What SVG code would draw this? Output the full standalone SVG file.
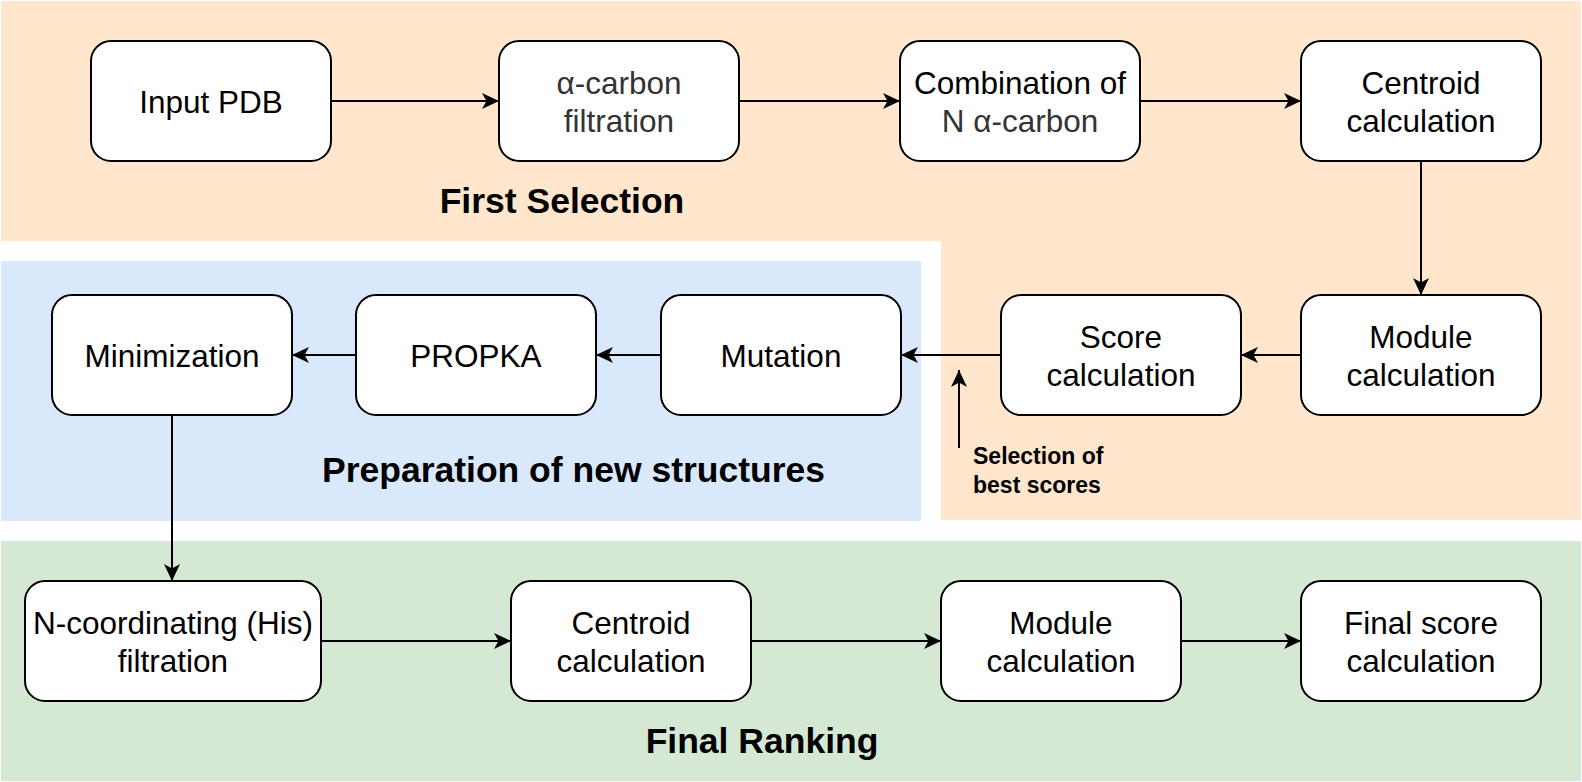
<svg xmlns="http://www.w3.org/2000/svg" width="1582" height="782" viewBox="0 0 1582 782">
<style>
.box{fill:#fff;stroke:#000;stroke-width:2}
.t{font-family:"Liberation Sans",Arial,sans-serif;font-size:31.5px;fill:#000;text-anchor:middle}
.g{fill:#333}
.h{font-family:"Liberation Sans",Arial,sans-serif;font-size:35.5px;font-weight:bold;fill:#000;text-anchor:middle}
.s{font-family:"Liberation Sans",Arial,sans-serif;font-size:23px;font-weight:bold;fill:#000}
.c{fill:none;stroke:#000;stroke-width:2}
</style>
<defs>
<marker id="arr" markerUnits="userSpaceOnUse" viewBox="-18 -9 19 18" refX="0" refY="0" markerWidth="19" markerHeight="18" orient="auto">
<path d="M0,0 L-17,-8 L-12.5,0 L-17,8 Z" fill="#000"/>
</marker>
</defs>
<rect x="0" y="0" width="1582" height="782" fill="#fff"/>
<g id="bg">
<path d="M1,1 H1581 V520 H941 V241 H1 Z" fill="#ffe6cc"/>
<rect x="1" y="261" width="920" height="260" fill="#dae8fc"/>
<rect x="1" y="541" width="1580" height="240" fill="#d5e8d4"/>
</g>
<g id="labels">
<text class="h" x="562" y="213">First Selection</text>
<text class="h" x="573.5" y="482">Preparation of new structures</text>
<text class="h" x="762" y="753">Final Ranking</text>
<text class="s" x="973" y="464">Selection of</text>
<text class="s" x="973" y="493">best scores</text>
</g>
<g id="connectors">
<line class="c" x1="331" y1="101" x2="499" y2="101" marker-end="url(#arr)"/>
<line class="c" x1="739" y1="101" x2="900" y2="101" marker-end="url(#arr)"/>
<line class="c" x1="1140" y1="101" x2="1301" y2="101" marker-end="url(#arr)"/>
<line class="c" x1="1421" y1="161" x2="1421" y2="295" marker-end="url(#arr)"/>
<line class="c" x1="1301" y1="355" x2="1241" y2="355" marker-end="url(#arr)"/>
<line class="c" x1="1001" y1="355" x2="901" y2="355" marker-end="url(#arr)"/>
<line class="c" x1="661" y1="355" x2="596" y2="355" marker-end="url(#arr)"/>
<line class="c" x1="356" y1="355" x2="292" y2="355" marker-end="url(#arr)"/>
<line class="c" x1="172" y1="415" x2="172" y2="581" marker-end="url(#arr)"/>
<line class="c" x1="321" y1="641" x2="511" y2="641" marker-end="url(#arr)"/>
<line class="c" x1="751" y1="641" x2="941" y2="641" marker-end="url(#arr)"/>
<line class="c" x1="1181" y1="641" x2="1301" y2="641" marker-end="url(#arr)"/>
<line class="c" x1="959" y1="448" x2="959" y2="370" marker-end="url(#arr)"/>
</g>
<g id="n-input"><rect class="box" x="91" y="41" width="240" height="120" rx="20"/><text class="t" x="211" y="112.5">Input PDB</text></g>
<g id="n-alpha"><rect class="box" x="499" y="41" width="240" height="120" rx="20"/><text class="t g" x="619" y="93.5">α-carbon</text><text class="t g" x="619" y="131.5">filtration</text></g>
<g id="n-comb"><rect class="box" x="900" y="41" width="240" height="120" rx="20"/><text class="t" x="1020" y="93.5">Combination of</text><text class="t g" x="1020" y="131.5">N α-carbon</text></g>
<g id="n-centroid1"><rect class="box" x="1301" y="41" width="240" height="120" rx="20"/><text class="t" x="1421" y="93.5">Centroid</text><text class="t" x="1421" y="131.5">calculation</text></g>
<g id="n-module1"><rect class="box" x="1301" y="295" width="240" height="120" rx="20"/><text class="t" x="1421" y="347.5">Module</text><text class="t" x="1421" y="385.5">calculation</text></g>
<g id="n-score"><rect class="box" x="1001" y="295" width="240" height="120" rx="20"/><text class="t" x="1121" y="347.5">Score</text><text class="t" x="1121" y="385.5">calculation</text></g>
<g id="n-mutation"><rect class="box" x="661" y="295" width="240" height="120" rx="20"/><text class="t" x="781" y="366.5">Mutation</text></g>
<g id="n-propka"><rect class="box" x="356" y="295" width="240" height="120" rx="20"/><text class="t" x="476" y="366.5">PROPKA</text></g>
<g id="n-min"><rect class="box" x="52" y="295" width="240" height="120" rx="20"/><text class="t" x="172" y="366.5">Minimization</text></g>
<g id="n-ncoord"><rect class="box" x="25" y="581" width="296" height="120" rx="20"/><text class="t" x="173" y="633.5">N-coordinating (His)</text><text class="t" x="173" y="671.5">filtration</text></g>
<g id="n-centroid2"><rect class="box" x="511" y="581" width="240" height="120" rx="20"/><text class="t" x="631" y="633.5">Centroid</text><text class="t" x="631" y="671.5">calculation</text></g>
<g id="n-module2"><rect class="box" x="941" y="581" width="240" height="120" rx="20"/><text class="t" x="1061" y="633.5">Module</text><text class="t" x="1061" y="671.5">calculation</text></g>
<g id="n-final"><rect class="box" x="1301" y="581" width="240" height="120" rx="20"/><text class="t" x="1421" y="633.5">Final score</text><text class="t" x="1421" y="671.5">calculation</text></g>
</svg>
